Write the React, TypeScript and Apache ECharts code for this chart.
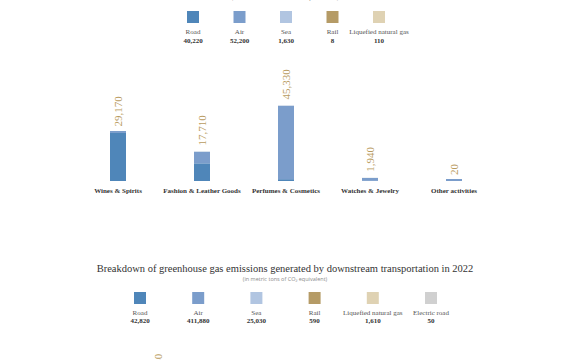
import React, { useEffect, useRef } from "react";
import * as echarts from "echarts";

const categories = ["Wines & Spirits", "Fashion & Leather Goods", "Perfumes & Cosmetics", "Watches & Jewelry", "Other activities"];
const modes = ["Road", "Air", "Sea", "Rail", "Liquefied natural gas"];
const roadValues = [28800, 10600, 1100, 70, 0];
const airValues = [320, 6900, 43900, 1730, 20];
const seaValues = [30, 180, 300, 100, 0];
const railValues = [8, 0, 0, 0, 0];
const lngValues = [12, 30, 30, 38, 0];
const totals = ["29,170", "17,710", "45,330", "1,940", "20"];
const legend1Values = ["40,220", "52,200", "1,630", "8", "110"];

const modes2 = ["Road", "Air", "Sea", "Rail", "Liquefied natural gas", "Electric road"];
const legend2Values = ["42,820", "411,880", "25,030", "590", "1,610", "50"];
const cutLabel = "46,350";

const colors = ["#4f86b9", "#7b9dcb", "#b1c5e1", "#b59b66", "#dfd2b3", "#d0d0d0"];
const GOLD = "#b99b60";
const SERIF = "'Liberation Serif', 'DejaVu Serif', serif";
const SANS = "'Open Sans', 'DejaVu Sans', sans-serif";

export default function App() {
  const ref = useRef<HTMLDivElement>(null);
  useEffect(() => {
    document.body.style.margin = "0";
    const chart = echarts.init(ref.current!, null, { renderer: "svg" });
    const seriesData = [roadValues, airValues, seaValues, railValues, lngValues];
    const series: any[] = seriesData.map((d, i) => ({
      name: modes[i],
      type: "bar",
      stack: "total",
      data: d,
      barWidth: 16,
      barMinHeight: i === 1 ? 2 : 0,
      itemStyle: { color: colors[i] },
      label:
        i === seriesData.length - 1
          ? {
              show: true,
              position: "top",
              rotate: 90,
              align: "left",
              verticalAlign: "middle",
              distance: 6,
              color: GOLD,
              fontFamily: SERIF,
              fontSize: 11,
              formatter: (p: any) => totals[p.dataIndex],
            }
          : { show: false },
    }));

    const graphic: any[] = [];
    graphic.push({
      type: "text",
      x: 285,
      y: -4,
      style: { text: "(in metric tons of CO₂ equivalent)", align: "center", verticalAlign: "middle", fontFamily: SANS, fontSize: 7, fill: "#8a8a8a" },
    });
    const l1Start = 193, l1Step = 46.5;
    modes.forEach((m, i) => {
      const cx = l1Start + i * l1Step;
      graphic.push({ type: "rect", shape: { x: cx - 6, y: 11, width: 12, height: 12 }, style: { fill: colors[i] } });
      graphic.push({ type: "text", x: cx, y: 32, style: { text: m, align: "center", verticalAlign: "middle", fontFamily: SERIF, fontSize: 7, fill: "#555" } });
      graphic.push({ type: "text", x: cx, y: 40.5, style: { text: legend1Values[i], align: "center", verticalAlign: "middle", fontFamily: SERIF, fontSize: 7, fontWeight: "bold", fill: "#333" } });
    });
    graphic.push({
      type: "text",
      x: 285,
      y: 268,
      style: { text: "Breakdown of greenhouse gas emissions generated by downstream transportation in 2022", align: "center", verticalAlign: "middle", fontFamily: SERIF, fontSize: 10.5, fill: "#333" },
    });
    graphic.push({
      type: "text",
      x: 285,
      y: 278.5,
      style: { text: "(in metric tons of CO₂ equivalent)", align: "center", verticalAlign: "middle", fontFamily: SANS, fontSize: 5.5, fill: "#8a8a8a" },
    });
    const l2Start = 140, l2Step = 58.2;
    modes2.forEach((m, i) => {
      const cx = l2Start + i * l2Step;
      graphic.push({ type: "rect", shape: { x: cx - 6, y: 292, width: 12, height: 12 }, style: { fill: colors[i] } });
      graphic.push({ type: "text", x: cx, y: 312.5, style: { text: m, align: "center", verticalAlign: "middle", fontFamily: SERIF, fontSize: 7, fill: "#555" } });
      graphic.push({ type: "text", x: cx, y: 320.5, style: { text: legend2Values[i], align: "center", verticalAlign: "middle", fontFamily: SERIF, fontSize: 7, fontWeight: "bold", fill: "#333" } });
    });
    graphic.push({
      type: "text",
      x: 158,
      y: 384,
      rotation: Math.PI / 2,
      style: { text: cutLabel, align: "left", verticalAlign: "middle", fontFamily: SERIF, fontSize: 11, fill: GOLD },
    });

    chart.setOption({
      animation: false,
      backgroundColor: "#ffffff",
      grid: { left: 76, right: 74, top: 81, bottom: 179 },
      xAxis: {
        type: "category",
        data: categories,
        axisLine: { show: false },
        axisTick: { show: false },
        axisLabel: { fontFamily: SERIF, fontSize: 7, fontWeight: "bold", color: "#333", margin: 6, interval: 0 },
      },
      yAxis: { type: "value", min: 0, max: 60000, show: false, splitLine: { show: false } },
      series,
      graphic,
    });
    return () => chart.dispose();
  }, []);
  return <div ref={ref} style={{ width: 570, height: 360 }} />;
}
